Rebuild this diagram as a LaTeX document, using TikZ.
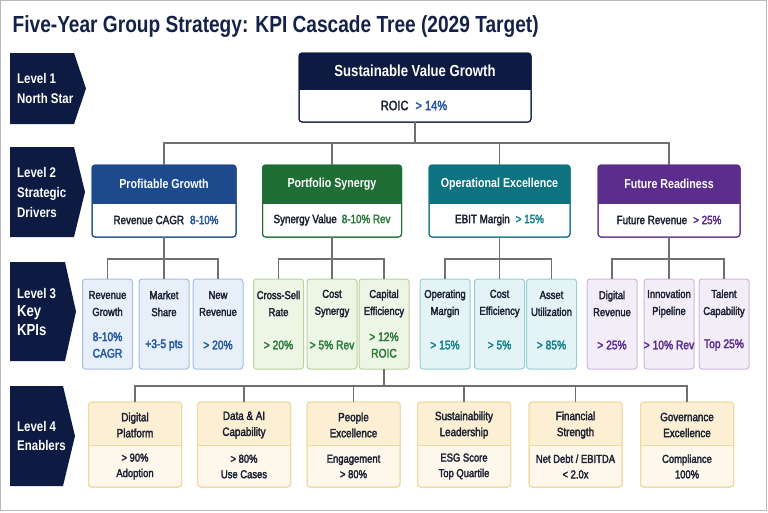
\documentclass[tikz,border=0pt]{standalone}
\usepackage{fontspec}
\setmainfont{Liberation Sans}[FakeStretch=0.82]
\newfontfamily\medfont{Liberation Sans}[FakeStretch=0.82,FakeBold=2.5]
\usetikzlibrary{calc}
\definecolor{navy}{HTML}{0D1B42}
\definecolor{titlec}{HTML}{14224A}
\definecolor{txt}{HTML}{1C2233}
\definecolor{connc}{HTML}{707070}
\definecolor{pgC}{HTML}{1C4A8C}
\definecolor{psC}{HTML}{1E6E36}
\definecolor{oeC}{HTML}{0E7381}
\definecolor{frC}{HTML}{5B2D8C}
\definecolor{pgV}{HTML}{2456A0}
\definecolor{psV}{HTML}{2B7A3B}
\definecolor{oeV}{HTML}{17808C}
\definecolor{frV}{HTML}{5B2D8C}
\definecolor{bF}{HTML}{E7EFF9}\definecolor{bB}{HTML}{A2BFE2}
\definecolor{gF}{HTML}{EDF5E4}\definecolor{gB}{HTML}{B5D39C}
\definecolor{tF}{HTML}{E4F3F5}\definecolor{tB}{HTML}{95CFD6}
\definecolor{pF}{HTML}{F3EDF8}\definecolor{pB}{HTML}{CDB7E1}
\definecolor{l4head}{HTML}{FCEFD4}
\definecolor{l4body}{HTML}{FEF8EC}
\definecolor{l4border}{HTML}{F0D89E}
\definecolor{frame}{HTML}{B8B8B8}

\tikzset{
  conn/.style={draw=connc, line width=1.3pt},
  lvlarrow/.style={fill=navy},
  lvltext/.style={anchor=west, align=left, text=white, font=\fontsize{14}{20}\selectfont\bfseries, inner sep=0pt},
  k3/.style={rounded corners=3pt, minimum width=50pt, minimum height=90pt, inner sep=0pt, outer sep=0pt, line width=1pt, anchor=north},
  k3title/.style={align=center, text=txt, font=\fontsize{11.5}{17}\selectfont\medfont, inner sep=0pt},
  k3val/.style={align=center, font=\fontsize{12.5}{16.5}\selectfont\medfont, inner sep=0pt},
  k4head/.style={align=center, text=txt, font=\fontsize{12}{16}\selectfont\medfont, inner sep=0pt},
  k4body/.style={align=center, text=txt, font=\fontsize{11.5}{15.5}\selectfont\medfont, inner sep=0pt},
  hdtext/.style={text=white, font=\fontsize{13}{16}\selectfont\bfseries, inner sep=0pt},
  bodytext/.style={text=txt, font=\fontsize{12}{15}\selectfont\medfont, inner sep=0pt}
}

\newcommand\kbox[9]{%
  \node[draw=#8, fill=#9, rounded corners=3pt, minimum width=#4pt, minimum height=#5pt,
        inner sep=0pt, outer sep=0pt, anchor=north, line width=1pt] (#1) at (#2,#3) {};
  \begin{scope}
    \clip[rounded corners=3pt] (#1.north west) rectangle (#1.south east);
    \fill[#7] (#1.north west) rectangle ($(#1.north east)+(0,#6)$);
  \end{scope}
  \draw[#8, line width=1pt] ($(#1.north west)+(0,#6)$) -- ($(#1.north east)+(0,#6)$);
  \draw[#8, rounded corners=3pt, line width=1pt] (#1.north west) rectangle (#1.south east);
}
\newcommand\kthree[7]{%
  \node[k3, fill=#3, draw=#4] (#1) at (#2,279) {};
  \node[k3title] (#1t) at (#2,303.5) {#6};
  \node[k3val, text=#5] (#1v) at (#2,345) {#7};
}
\newcommand\kfour[4]{%
  \kbox{#1}{#2}{402}{93}{85}{43}{l4head}{l4border}{l4body}
  \node[k4head] (#1h) at (#2,425) {#3};
  \node[k4body] (#1b) at (#2,466.5) {#4};
}

\begin{document}
\begin{tikzpicture}[x=1pt,y=-1pt]
\useasboundingbox (0,0) rectangle (768,512);
\fill[white] (0,0) rectangle (768,512);
\draw[frame, line width=1pt] (0.5,0.5) rectangle (766.5,510.5);

% title
\node[anchor=base west, text=titlec, font=\fontsize{23.3}{26}\selectfont\bfseries, inner sep=0pt] (title) at (12.5,32) {Five-Year Group Strategy: KPI Cascade Tree (2029 Target)};

% level labels
\fill[lvlarrow] (10,53) -- (74,53) -- (86,88.5) -- (74,124) -- (10,124) -- cycle;
\node[lvltext] (lv1) at (17,88.5) {Level 1\\North Star};
\fill[lvlarrow] (10,147) -- (74,147) -- (85,192) -- (74,237) -- (10,237) -- cycle;
\node[lvltext] (lv2) at (17,192) {Level 2\\Strategic\\Drivers};
\fill[lvlarrow] (10,262) -- (65,262) -- (76,311.5) -- (65,361) -- (10,361) -- cycle;
\node[lvltext, font=\fontsize{14}{18.5}\selectfont\bfseries] (lv3) at (17,311.5) {Level 3\\{\fontsize{16}{18.5}\selectfont Key}\\{\fontsize{16}{18.5}\selectfont KPIs}};
\fill[lvlarrow] (10,386) -- (63,386) -- (75,436) -- (63,486) -- (10,486) -- cycle;
\node[lvltext, font=\fontsize{14}{19.5}\selectfont\bfseries] (lv4) at (17,436) {Level 4\\Enablers};

% level 1
\kbox{l1}{415}{53}{232}{69}{36}{navy}{navy}{white}
\node[hdtext, font=\fontsize{16}{18}\selectfont\bfseries] (l1h) at (415,71) {Sustainable Value Growth};
\node[bodytext, font=\fontsize{13.5}{15}\selectfont\medfont] (l1b) at (414,105.5) {ROIC\hspace{7pt}\textcolor{pgV}{> 14\%}};

% level 2
\kbox{d1}{164}{165}{144}{72}{38}{pgC}{pgC}{white}
\node[hdtext] (d1h) at (164,184) {Profitable Growth};
\node[bodytext] (d1b) at (166,220) {Revenue CAGR\hspace{6pt}\textcolor{pgV}{8-10\%}};
\kbox{d2}{332}{165}{139}{72}{38}{psC}{psC}{white}
\node[hdtext] (d2h) at (332,184) {Portfolio Synergy};
\node[bodytext] (d2b) at (332,220) {Synergy Value\hspace{5pt}\textcolor{psV}{8-10\% Rev}};
\kbox{d3}{499.5}{165}{141}{72}{38}{oeC}{oeC}{white}
\node[hdtext] (d3h) at (499.5,184) {Operational Excellence};
\node[bodytext] (d3b) at (499.5,220) {EBIT Margin\hspace{6pt}\textcolor{oeV}{> 15\%}};
\kbox{d4}{669}{165}{142}{72}{38}{frC}{frC}{white}
\node[hdtext] (d4h) at (669,184) {Future Readiness};
\node[bodytext] (d4b) at (669,220) {Future Revenue\hspace{6pt}\textcolor{frV}{> 25\%}};

% level 3
\kthree{k11}{107.5}{bF}{bB}{pgV}{Revenue\\Growth}{8-10\%\\CAGR}
\kthree{k12}{164}{bF}{bB}{pgV}{Market\\Share}{+3-5 pts}
\kthree{k13}{218}{bF}{bB}{pgV}{New\\Revenue}{> 20\%}
\kthree{k21}{278.5}{gF}{gB}{psV}{Cross-Sell\\Rate}{> 20\%}
\kthree{k22}{332}{gF}{gB}{psV}{Cost\\Synergy}{> 5\% Rev}
\kthree{k23}{384}{gF}{gB}{psV}{Capital\\Efficiency}{> 12\%\\ROIC}
\kthree{k31}{445}{tF}{tB}{oeV}{Operating\\Margin}{> 15\%}
\kthree{k32}{499.5}{tF}{tB}{oeV}{Cost\\Efficiency}{> 5\%}
\kthree{k33}{551.5}{tF}{tB}{oeV}{Asset\\Utilization}{> 85\%}
\kthree{k41}{612}{pF}{pB}{frV}{Digital\\Revenue}{> 25\%}
\kthree{k42}{669}{pF}{pB}{frV}{Innovation\\Pipeline}{> 10\% Rev}
\kthree{k43}{724}{pF}{pB}{frV}{Talent\\Capability}{Top 25\%}

% level 4
\kfour{e1}{135}{Digital\\Platform}{> 90\%\\Adoption}
\kfour{e2}{244}{Data \& AI\\Capability}{> 80\%\\Use Cases}
\kfour{e3}{353.5}{People\\Excellence}{Engagement\\> 80\%}
\kfour{e4}{464}{Sustainability\\Leadership}{ESG Score\\Top Quartile}
\kfour{e5}{575.5}{Financial\\Strength}{Net Debt / EBITDA\\< 2.0x}
\kfour{e6}{687}{Governance\\Excellence}{Compliance\\100\%}

% connectors
\foreach \d in {d1,d2,d3,d4} \draw[conn] (l1.south) -- ++(0,21) -| (\d.north);
\foreach \k in {k11,k12,k13} \draw[conn] (d1.south) -- ++(0,22) -| (\k.north);
\foreach \k in {k21,k22,k23} \draw[conn] (d2.south) -- ++(0,22) -| (\k.north);
\foreach \k in {k31,k32,k33} \draw[conn] (d3.south) -- ++(0,22) -| (\k.north);
\foreach \k in {k41,k42,k43} \draw[conn] (d4.south) -- ++(0,22) -| (\k.north);
\foreach \e in {e1,e2,e3,e4,e5,e6} \draw[conn] (k23.south) -- ++(0,17) -| (\e.north);
\end{tikzpicture}
\end{document}
